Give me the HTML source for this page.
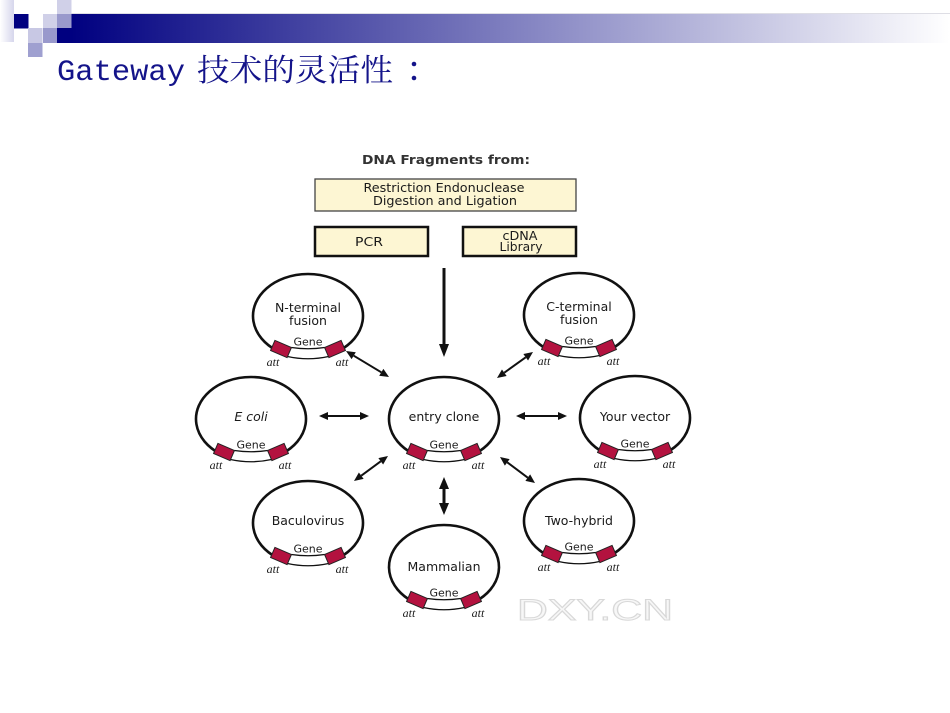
<!DOCTYPE html>
<html>
<head>
<meta charset="utf-8">
<style>
  html, body { margin: 0; padding: 0; background: #fff; }
  svg { display: block; }
  .lbl { font-family: "DejaVu Sans", "Liberation Sans", sans-serif; font-size: 12.5px; fill: #1a1a1a; text-anchor: middle; }
  .gene { font-family: "DejaVu Sans", "Liberation Sans", sans-serif; font-size: 11px; fill: #1a1a1a; text-anchor: middle; }
  .att { font-family: "Liberation Serif", serif; font-style: italic; font-size: 12px; fill: #1a1a1a; text-anchor: middle; }
</style>
</head>
<body>
<svg width="950" height="713" viewBox="0 0 950 713" xmlns="http://www.w3.org/2000/svg">
  <defs>
    <linearGradient id="bar" x1="0" y1="0" x2="1" y2="0">
      <stop offset="0" stop-color="#000080"/>
      <stop offset="1" stop-color="#ffffff"/>
    </linearGradient>
    <linearGradient id="strip" x1="0" y1="0" x2="1" y2="0">
      <stop offset="0" stop-color="#ffffff"/>
      <stop offset="1" stop-color="#d6d6ec"/>
    </linearGradient>
    <g id="pl">
      <path d="M31 34.7 A55 42 0 1 0 -31 34.7" fill="none" stroke="#111" stroke-width="2.6"/>
      <path d="M-16.6 31.5 Q0 34 16.6 31.5" fill="none" stroke="#111" stroke-width="1.3"/>
      <path d="M-20.5 40.5 Q0 45 20.5 40.5" fill="none" stroke="#111" stroke-width="1.3"/>
      <rect x="-9" y="-5.5" width="18" height="11" transform="translate(-27 33) rotate(23.3)" fill="#b3123f" stroke="#222" stroke-width="1"/>
      <rect x="-9" y="-5.5" width="18" height="11" transform="translate(27 33) rotate(-23.3)" fill="#b3123f" stroke="#222" stroke-width="1"/>
      <text class="gene" x="0" y="29.5">Gene</text>
      <text class="att" x="-35" y="50">att</text>
      <text class="att" x="34" y="50">att</text>
    </g>
  </defs>

  <!-- header decoration -->
  <rect x="0" y="0" width="14" height="42" fill="url(#strip)"/>
  <rect x="71" y="14" width="879" height="29" fill="url(#bar)"/>
  <rect x="71" y="13" width="879" height="1" fill="#c8c8d4" opacity="0.6"/>
  <rect x="14" y="14" width="14.5" height="14.5" fill="#000080"/>
  <rect x="43" y="14" width="14.5" height="14.5" fill="#d0d0e8"/>
  <rect x="57" y="0" width="14.5" height="14.5" fill="#d0d0e8"/>
  <rect x="57" y="14" width="14.5" height="14.5" fill="#9999cc"/>
  <rect x="28" y="28" width="14.5" height="15" fill="#c8c8e4"/>
  <rect x="43" y="28" width="14.5" height="15" fill="#9999cc"/>
  <rect x="57" y="28" width="14.5" height="15" fill="#000080"/>
  <rect x="28" y="43" width="14.5" height="14" fill="#9fa0d0"/>

  <!-- title -->
  <text x="57" y="80" font-family="Liberation Mono, monospace" font-size="30" fill="#14148a" textLength="128" lengthAdjust="spacingAndGlyphs">Gateway</text>
  <text x="197" y="81" font-family="'Noto Serif CJK SC', 'Noto Sans CJK SC', serif" font-size="31" fill="#14148a" textLength="196" lengthAdjust="spacingAndGlyphs">技术的灵活性</text>
  <circle cx="414" cy="64" r="2.3" fill="#14148a"/>
  <circle cx="414" cy="78" r="2.3" fill="#14148a"/>

  <!-- DNA fragments header -->
  <text x="446" y="164" font-family="DejaVu Sans, sans-serif" font-size="12" font-weight="bold" fill="#333" text-anchor="middle" textLength="168" lengthAdjust="spacingAndGlyphs">DNA Fragments from:</text>

  <rect x="315" y="179" width="261" height="32" fill="#fdf6d3" stroke="#444" stroke-width="1.3"/>
  <text class="lbl" x="444" y="192" font-size="11.5" textLength="161" lengthAdjust="spacingAndGlyphs">Restriction Endonuclease</text>
  <text class="lbl" x="445" y="205" font-size="11.5" textLength="144" lengthAdjust="spacingAndGlyphs">Digestion and Ligation</text>

  <rect x="315" y="227" width="113" height="29" fill="#fdf6d3" stroke="#111" stroke-width="2.5"/>
  <text class="lbl" x="369" y="246" textLength="28" lengthAdjust="spacingAndGlyphs">PCR</text>
  <rect x="463" y="227" width="113" height="29" fill="#fdf6d3" stroke="#111" stroke-width="2.5"/>
  <text class="lbl" x="520" y="240" textLength="35" lengthAdjust="spacingAndGlyphs">cDNA</text>
  <text class="lbl" x="521" y="251" textLength="43" lengthAdjust="spacingAndGlyphs">Library</text>

  <!-- big down arrow -->
  <line x1="444" y1="268" x2="444" y2="345" stroke="#111" stroke-width="3"/>
  <polygon points="444,357 439,344 449,344" fill="#111"/>

  <!-- plasmids -->
  <use href="#pl" transform="translate(308 316)"/>
  <text class="lbl" x="308" y="312">N-terminal</text>
  <text class="lbl" x="308" y="325">fusion</text>

  <use href="#pl" transform="translate(579 315)"/>
  <text class="lbl" x="579" y="311">C-terminal</text>
  <text class="lbl" x="579" y="324">fusion</text>

  <use href="#pl" transform="translate(251 419)"/>
  <text class="lbl" x="251" y="421" font-style="italic">E coli</text>

  <use href="#pl" transform="translate(444 419)"/>
  <text class="lbl" x="444" y="421">entry clone</text>

  <use href="#pl" transform="translate(635 418)"/>
  <text class="lbl" x="635" y="421">Your vector</text>

  <use href="#pl" transform="translate(308 523)"/>
  <text class="lbl" x="308" y="525">Baculovirus</text>

  <use href="#pl" transform="translate(579 521)"/>
  <text class="lbl" x="579" y="525">Two-hybrid</text>

  <use href="#pl" transform="translate(444 567)"/>
  <text class="lbl" x="444" y="571">Mammalian</text>

  <!-- double arrows -->
  <g fill="#111" stroke="none">
    <line x1="353.7" y1="355.7" x2="381.3" y2="372.3" stroke="#111" stroke-width="2"/>
    <polygon points="389,377 379.2,375.7 383.4,368.9"/>
    <polygon points="346,351 351.6,359.1 355.8,352.3"/>

    <line x1="504.3" y1="372.7" x2="525.7" y2="357.3" stroke="#111" stroke-width="2"/>
    <polygon points="497,378 501.96,369.46 506.64,375.94"/>
    <polygon points="533,352 523.36,354.06 528.04,360.54"/>

    <line x1="328" y1="416" x2="360" y2="416" stroke="#111" stroke-width="2"/>
    <polygon points="319,416 328,412 328,420"/>
    <polygon points="369,416 360,412 360,420"/>

    <line x1="525" y1="416" x2="558" y2="416" stroke="#111" stroke-width="2"/>
    <polygon points="516,416 525,412 525,420"/>
    <polygon points="567,416 558,412 558,420"/>

    <line x1="361.25" y1="475.67" x2="380.75" y2="461.33" stroke="#111" stroke-width="2"/>
    <polygon points="388,456 383.12,464.55 378.38,458.1"/>
    <polygon points="354,481 363.62,478.9 358.88,472.45"/>

    <line x1="507.23" y1="462.36" x2="527.77" y2="477.64" stroke="#111" stroke-width="2"/>
    <polygon points="535,483 525.39,480.85 530.15,474.43"/>
    <polygon points="500,457 504.85,465.57 509.61,459.15"/>

    <line x1="444" y1="487" x2="444" y2="505" stroke="#111" stroke-width="3"/>
    <polygon points="444,477 439,489 449,489"/>
    <polygon points="444,515 439,503 449,503"/>
  </g>

  <!-- watermark -->
  <text x="517" y="620" font-family="Liberation Sans, sans-serif" font-size="30" fill="#f7f7f7" stroke="#d8d8d8" stroke-width="1" textLength="156" lengthAdjust="spacingAndGlyphs">DXY.CN</text>
</svg>
</body>
</html>
